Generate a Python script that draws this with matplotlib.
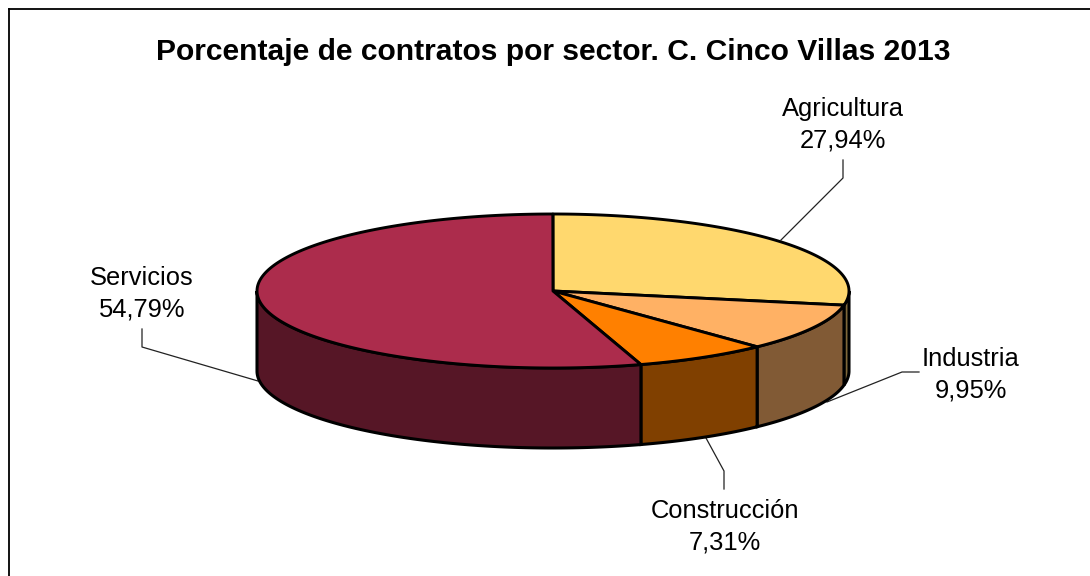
import numpy as np
import matplotlib
matplotlib.use("Agg")
import matplotlib.pyplot as plt
from matplotlib.patches import Polygon

plt.rcParams['font.family'] = ['Liberation Sans', 'DejaVu Sans']

# values in drawing order, clockwise from the top
sectors = ["Agricultura", "Industria", "Construcción", "Servicios"]
percents = [27.94, 9.95, 7.31, 54.79]
percent_labels = ["27,94%", "9,95%", "7,31%", "54,79%"]
top_colors = ["#FFD86E", "#FFB164", "#FF8000", "#AC2C4C"]
side_colors = ["#80683A", "#815A35", "#804000", "#561626"]

cx, cy = 553, 291
rx, ry = 296, 77
depth = 80


def rim(theta):
    return cx + rx * np.sin(theta), cy - ry * np.cos(theta)


def arc(start, end, n=200):
    return np.column_stack(rim(np.linspace(start, end, n)))


fig = plt.figure(figsize=(10.9, 5.76), dpi=100)
ax = fig.add_axes([0, 0, 1, 1])
ax.set_xlim(0, 1090)
ax.set_ylim(576, 0)
ax.axis('off')

# chart frame, cropped at the right and bottom of the picture
ax.plot([9, 9], [576, 8.5], color='black', lw=1.3)
ax.plot([9, 1090], [8.5, 8.5], color='black', lw=1.3)

edges = np.radians(np.cumsum([0] + percents) * 3.6)

# side walls, visible part only (front half of the ellipse)
for i in range(len(percents)):
    a = max(edges[i], np.pi / 2)
    b = min(edges[i + 1], 3 * np.pi / 2)
    if a >= b:
        continue
    top = arc(a, b)
    bottom = top[::-1] + [0, depth]
    ax.add_patch(Polygon(np.vstack([top, bottom]), closed=True,
                         facecolor=side_colors[i], edgecolor='black', lw=2.2, zorder=2))

# top faces
for i in range(len(percents)):
    pts = np.vstack([[cx, cy], arc(edges[i], edges[i + 1])])
    ax.add_patch(Polygon(pts, closed=True, facecolor=top_colors[i],
                         edgecolor='black', lw=2.1, joinstyle='round', zorder=3))

# leader lines
leaders = [
    ([781, 843, 843], [240, 178, 160]),
    ([827, 902, 919], [402, 372, 372]),
    ([706, 724, 724], [438, 471, 489]),
    ([258, 142, 142], [381, 347, 329]),
]
for xs, ys in leaders:
    ax.plot(xs, ys, color='#222222', lw=0.9, zorder=1)

# labels
label_x = [843, 971, 725, 142]
label_y = [125, 375, 527, 294]
for i in range(len(sectors)):
    ax.text(label_x[i], label_y[i], sectors[i] + "\n" + percent_labels[i],
            ha='center', va='center', fontsize=18.4, linespacing=1.38, color='black')

ax.text(553, 52, "Porcentaje de contratos por sector. C. Cinco Villas 2013",
        ha='center', va='center', fontsize=21.6, fontweight='bold', color='black')

fig.savefig("out.png", dpi=100)
